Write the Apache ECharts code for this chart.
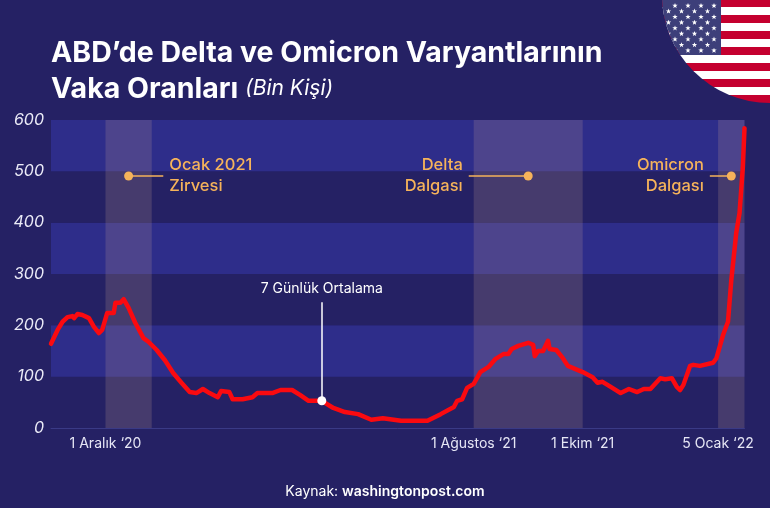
<!DOCTYPE html>
<html>
<head>
<meta charset="utf-8">
<style>
html, body { margin: 0; padding: 0; background: #252164; }
#chart { width: 770px; height: 508px; }
</style>
<script src="https://cdn.jsdelivr.net/npm/echarts@6/dist/echarts.min.js"></script>
</head>
<body>
<div id="chart"></div>
<script>
// gun: seri baslangicindan itibaren gun, vaka: bin kisi
var days = [0, 4, 7, 10, 13, 14, 16, 19, 23, 26, 29, 31, 34, 38, 39, 42, 44, 47, 51, 56, 59, 64, 69, 74, 79, 84, 88, 92, 96, 101, 103, 108, 110, 116, 122, 125, 134, 139, 146, 151, 156, 164, 171, 178, 186, 194, 201, 212, 228, 236, 244, 246, 249, 252, 256, 260, 265, 269, 274, 277, 279, 283, 289, 292, 293, 295, 298, 301, 302, 306, 310, 313, 322, 328, 331, 334, 339, 345, 350, 355, 359, 363, 369, 372, 376, 379, 381, 383, 387, 389, 393, 401, 403, 407, 410, 412, 415, 417, 419, 420];
var cases = [164, 191, 207, 216, 218, 214, 222, 220, 214, 197, 185, 191, 224, 224, 244, 244, 251, 234, 205, 175, 168, 152, 132, 107, 88, 70, 68, 76, 68, 60, 72, 70, 56, 56, 60, 68, 68, 74, 74, 64, 53, 53, 39, 31, 27, 16, 19, 14, 14, 27, 41, 53, 56, 78, 86, 109, 119, 134, 144, 144, 154, 160, 166, 162, 140, 150, 150, 170, 154, 152, 136, 121, 109, 99, 88, 90, 80, 68, 76, 70, 76, 76, 97, 95, 97, 80, 74, 84, 121, 123, 121, 127, 136, 181, 207, 288, 380, 419, 508, 584];

var tickDays = [33, 256, 322, 404];
var tickLabels = ['1 Aralık ‘20', '1 Ağustos ‘21', '1 Ekim ‘21', '5 Ocak ‘22'];
var waveRanges = [[33, 61], [256, 322], [404, 420]];

var waveDots = [[47, 491], [289, 491], [412, 491]];
var waveLeaderEnds = [[68, 491], [253, 491], [399, 491]];
var waveNames = ['Ocak 2021\nZirvesi', 'Delta\nDalgası', 'Omicron\nDalgası'];
var avgPoint = [164, 53];
var avgTop = [164, 245];
var avgName = '7 Günlük Ortalama';

var bgColor = '#252164';
var bandColor = '#2e2d8a';
var orange = '#f6b35a';
var fontName = 'Inter';

function flagImage() {
    var s = '<svg xmlns="http://www.w3.org/2000/svg" width="108" height="104" viewBox="662 0 108 104">';
    s += '<defs><clipPath id="c"><circle cx="770" cy="-5" r="108"/></clipPath>';
    s += '<polygon id="st" points="0,-2.7 .7,-.9 2.7,-.9 1.1,.3 1.7,2.3 0,1.2 -1.7,2.3 -1.1,.3 -2.7,-.9 -.7,-.9" fill="#fff"/></defs>';
    s += '<g clip-path="url(#c)">';
    for (var i = 0; i < 13; i++) {
        s += '<rect x="662" y="' + (i * 8 - 1) + '" width="108" height="8" fill="' + (i % 2 ? '#fff' : '#c4002f') + '"/>';
    }
    s += '<rect x="662" y="0" width="59" height="55" fill="#3d3f7a"/>';
    for (var r = 0; r < 9; r++) {
        for (var k = 0; k < 5; k++) {
            var sx = (r % 2 ? 668.5 : 675) + k * 13;
            if (sx < 720) {
                s += '<use href="#st" x="' + sx + '" y="' + (5.7 + r * 5.6) + '"/>';
            }
        }
    }
    s += '</g></svg>';
    return 'data:image/svg+xml;charset=utf-8,' + encodeURIComponent(s);
}

var myChart = echarts.init(document.getElementById('chart'));

var option = {
    backgroundColor: bgColor,
    animation: false,
    title: [{
        left: 46,
        top: 30,
        text: 'ABD’de Delta ve Omicron Varyantlarının\nVaka Oranları {i|(Bin Kişi)}',
        textStyle: {
            color: '#ffffff',
            fontFamily: fontName,
            fontSize: 28.5,
            fontWeight: 700,
            lineHeight: 36,
            rich: {
                i: { color: '#ffffff', fontFamily: fontName, fontSize: 21, fontStyle: 'italic', fontWeight: 400, lineHeight: 36 }
            }
        }
    }, {
        left: 'center',
        top: 480,
        text: 'Kaynak: {b|washingtonpost.com}',
        textStyle: {
            color: '#ffffff',
            fontFamily: fontName,
            fontSize: 14,
            fontWeight: 400,
            rich: {
                b: { color: '#ffffff', fontFamily: fontName, fontSize: 14, fontWeight: 600 }
            }
        }
    }],
    graphic: [{
        type: 'image',
        left: 662,
        top: 0,
        style: { image: flagImage(), width: 108, height: 104 }
    }],
    grid: { left: 51, top: 120, width: 693.5, height: 308 },
    xAxis: {
        type: 'value',
        min: 0,
        max: 420,
        splitLine: { show: false },
        axisTick: { show: false },
        axisLine: { lineStyle: { color: '#3a3a86', width: 1 } },
        axisLabel: {
            customValues: tickDays,
            color: '#e6e6f5',
            fontFamily: fontName,
            fontSize: 14,
            margin: 9,
            formatter: function (v) {
                return tickLabels[tickDays.indexOf(v)];
            }
        }
    },
    yAxis: {
        type: 'value',
        min: 0,
        max: 600,
        interval: 100,
        axisLine: { show: false },
        axisTick: { show: false },
        splitLine: { show: false },
        splitArea: { show: true, areaStyle: { color: [bgColor, bandColor] } },
        axisLabel: {
            color: '#ececf8',
            fontFamily: fontName,
            fontSize: 16,
            fontStyle: 'italic',
            margin: 7
        }
    },
    series: [{
        name: 'Vaka',
        type: 'line',
        data: days.map(function (d, i) { return [d, cases[i]]; }),
        symbol: 'none',
        z: 5,
        lineStyle: { color: '#fa0a10', width: 4.5, join: 'round', cap: 'round' },
        markArea: {
            silent: true,
            itemStyle: { color: 'rgba(222,179,150,0.18)' },
            data: waveRanges.map(function (r) {
                return [{ xAxis: r[0] }, { xAxis: r[1] }];
            })
        }
    }, {
        name: 'Dalga çizgileri',
        type: 'line',
        data: [],
        z: 6,
        markLine: {
            silent: true,
            symbol: 'none',
            label: { show: false },
            lineStyle: { color: orange, width: 1.5, type: 'solid', opacity: 1 },
            data: waveDots.map(function (p, i) {
                return [{ coord: p }, { coord: waveLeaderEnds[i] }];
            })
        }
    }, {
        name: 'Ortalama çizgisi',
        type: 'line',
        data: [],
        z: 6,
        markLine: {
            silent: true,
            symbol: 'none',
            label: { show: false },
            lineStyle: { color: '#ffffff', width: 1.5, type: 'solid', opacity: 1 },
            data: [[{ coord: avgPoint }, { coord: avgTop }]]
        }
    }, {
        name: 'Dalga noktaları',
        type: 'scatter',
        data: waveDots,
        symbolSize: 9,
        z: 7,
        itemStyle: { color: orange, opacity: 1 }
    }, {
        name: 'Ortalama noktası',
        type: 'scatter',
        data: [avgPoint],
        symbolSize: 9,
        z: 7,
        itemStyle: { color: '#ffffff', opacity: 1 }
    }, {
        name: 'Dalga etiketleri',
        type: 'scatter',
        symbolSize: 0,
        z: 8,
        itemStyle: { opacity: 1 },
        data: waveLeaderEnds.map(function (p, i) {
            return {
                value: p,
                label: {
                    show: true,
                    formatter: waveNames[i],
                    position: i === 0 ? 'right' : 'left',
                    align: i === 0 ? 'left' : 'right',
                    distance: 6,
                    color: orange,
                    fontFamily: fontName,
                    fontSize: 16.5,
                    fontWeight: 500,
                    lineHeight: 21
                }
            };
        })
    }, {
        name: 'Ortalama etiketi',
        type: 'scatter',
        symbolSize: 0,
        z: 8,
        itemStyle: { opacity: 1 },
        data: [{
            value: avgTop,
            label: {
                show: true,
                formatter: avgName,
                position: 'top',
                distance: 6,
                color: '#ffffff',
                fontFamily: fontName,
                fontSize: 14
            }
        }]
    }]
};
myChart.setOption(option);
</script>
</body>
</html>
